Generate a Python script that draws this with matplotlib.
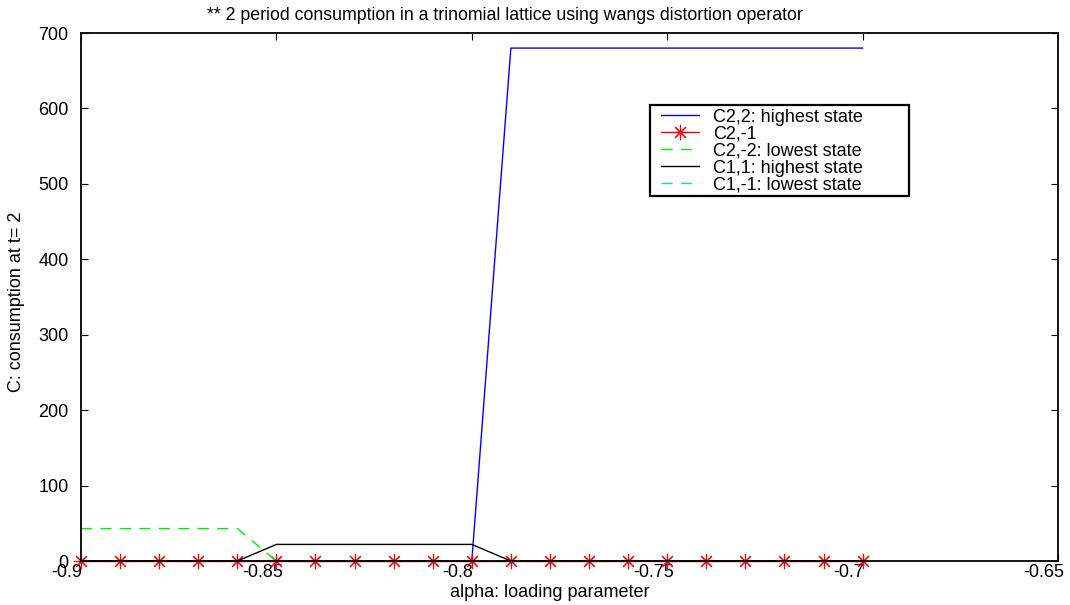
import numpy as np
import matplotlib
matplotlib.use("Agg")
import matplotlib.pyplot as plt
import matplotlib.transforms as mtransforms
from matplotlib.patches import Rectangle

plt.rcParams['font.family'] = ['Liberation Sans', 'DejaVu Sans']

alpha = [-0.90, -0.89, -0.88, -0.87, -0.86, -0.85, -0.84, -0.83, -0.82, -0.81, -0.80,
         -0.79, -0.78, -0.77, -0.76, -0.75, -0.74, -0.73, -0.72, -0.71, -0.70]
c22 = [0, 0, 0, 0, 0, 0, 0, 0, 0, 0, 0,
       680, 680, 680, 680, 680, 680, 680, 680, 680, 680]
c2m1 = [0] * 21
c2m2 = [43, 43, 43, 43, 43, 0, 0, 0, 0, 0, 0,
        0, 0, 0, 0, 0, 0, 0, 0, 0, 0]
c11 = [0, 0, 0, 0, 0, 22, 22, 22, 22, 22, 22,
       0, 0, 0, 0, 0, 0, 0, 0, 0, 0]
c1m1 = [0] * 21

W, H = 1070, 605
fig = plt.figure(figsize=(W/100, H/100), dpi=100)
ax = fig.add_axes([81/W, 44/H, (1058-81)/W, (561-33)/H])

ax.plot(alpha, c22, color='#0000ff', lw=1, label='C2,2: highest state')
ax.plot(alpha, c2m1, color='#ff0000', lw=1, marker=(8, 2, 0), ms=11, mew=0.8,
        clip_on=False, label='C2,-1')
ax.plot(alpha, c2m2, color='#00ee00', lw=1, dashes=(8, 6), label='C2,-2: lowest state')
ax.plot(alpha, c11, color='black', lw=1, label='C1,1: highest state')
ax.plot(alpha, c1m1, color='#00dddd', lw=1, dashes=(8, 6), label='C1,-1: lowest state')

ax.set_xlim(-0.9, -0.65)
ax.set_ylim(0, 700)
ax.set_xticks([-0.9, -0.85, -0.8, -0.75, -0.7, -0.65])
ax.set_xticklabels(['-0.9', '-0.85', '-0.8', '-0.75', '-0.7', '-0.65'])
ax.set_yticks(range(0, 701, 100))
ax.tick_params(direction='in', top=True, right=True, length=5, labelsize=13)
ax.tick_params(axis='x', pad=2)
ax.tick_params(axis='y', pad=9)
for s in ax.spines.values():
    s.set_linewidth(1.3)

# gnuplot puts the x tick labels a bit to the left of the ticks
shift = mtransforms.ScaledTranslation(-14/100, 0, fig.dpi_scale_trans)
for lab in ax.get_xticklabels():
    lab.set_transform(lab.get_transform() + shift)

ax.set_xlabel('alpha: loading parameter', fontsize=13)
ax.xaxis.set_label_coords((550-81)/977, -(584-561)/528)
ax.set_ylabel('C: consumption at t= 2', fontsize=13)
ax.yaxis.set_label_coords(-(81-25)/977, 0.49)
fig.text(505/W, 1 - 15/H, '** 2 period consumption in a trinomial lattice using wangs distortion operator',
         ha='center', va='center', fontsize=12.8)

leg = ax.legend(loc='upper left', bbox_to_anchor=((659-81)/977, (561-107)/528),
                fontsize=13, frameon=False,
                handlelength=2.1, borderpad=0.1, labelspacing=0.0, handletextpad=0.8,
                borderaxespad=0)
# gnuplot style key box
box = Rectangle((650/W, 1 - 196/H), (909-650)/W, (196-105)/H, transform=fig.transFigure,
                fill=False, edgecolor='black', lw=1.6, zorder=5)
fig.patches.append(box)

fig.savefig('out.png', dpi=100)
